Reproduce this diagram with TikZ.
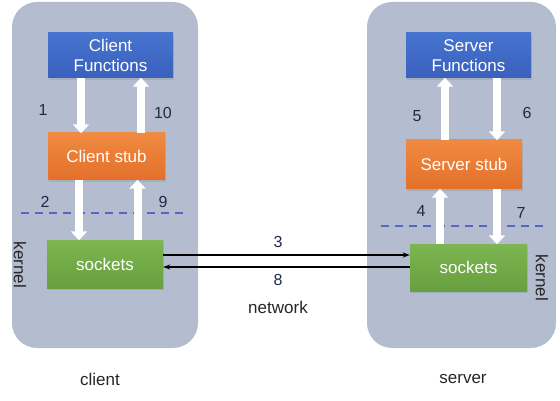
\documentclass[tikz,border=0pt]{standalone}
\usepackage{fontspec}
\setmainfont{Liberation Sans}
\usepackage{tikz}
\usetikzlibrary{positioning,arrows.meta,shadows,calc}
\definecolor{panel}{HTML}{B3BDCF}
\definecolor{fnblue}{HTML}{4674CF}
\definecolor{fnbluedark}{HTML}{3A60BD}
\definecolor{stuborange}{HTML}{F08A42}
\definecolor{stuborangedark}{HTML}{E3702A}
\definecolor{sockgreen}{HTML}{7DB552}
\definecolor{sockgreendark}{HTML}{68A03F}
\definecolor{navy}{HTML}{1F2A4A}
\definecolor{kline}{HTML}{5468C0}

\begin{document}
\begin{tikzpicture}[x=1pt,y=-1pt,
    box/.style={inner sep=0pt, align=center, text=white,
      font=\fontsize{17}{20}\selectfont,
      drop shadow={shadow xshift=1pt, shadow yshift=-2pt, opacity=0.25}},
    fnbox/.style={box, minimum width=125pt, minimum height=45pt,
      top color=fnblue, bottom color=fnbluedark},
    stubbox/.style={box, minimum width=117pt, minimum height=47pt,
      top color=stuborange, bottom color=stuborangedark},
    sockbox/.style={box, minimum width=117pt, minimum height=48pt,
      top color=sockgreen, bottom color=sockgreendark},
    flow/.style={white, line width=8pt,
      -{Triangle[width=16pt,length=9pt]}, shorten >=-0.5pt},
    wire/.style={black, line width=1.3pt, -{Stealth[length=7pt,width=5pt]}},
    num/.style={text=navy, font=\fontsize{16}{19}\selectfont},
    caption/.style={text=black!85, font=\fontsize{17}{20}\selectfont}]

  % canvas
  \useasboundingbox (0,0) rectangle (560,401);

  % client and server panels
  \fill[panel, rounded corners=25pt] (12,2) rectangle (198,348);
  \fill[panel, rounded corners=25pt] (367,2) rectangle (556,348);

  % kernel boundaries
  \draw[kline, line width=1.2pt, dash pattern=on 8pt off 6pt] (21,213) -- (183,213);
  \draw[kline, line width=1.2pt, dash pattern=on 8pt off 6pt] (381,226) -- (543,226);

  % client side
  \node[fnbox] (cfunc) at (110.5,55.5) {Client\\Functions};
  \node[stubbox] (cstub) at (106.5,156.5) {Client stub};
  \node[sockbox, minimum width=116pt] (csock) at (105,264) {sockets};

  % server side
  \node[fnbox] (sfunc) at (468.5,55.5) {Server\\Functions};
  \node[stubbox, minimum width=116pt, minimum height=49pt] (sstub) at (464,164.5) {Server stub};
  \node[sockbox, minimum height=47pt] (ssock) at (468.5,267.5) {sockets};

  % calls inside the client
  \draw[flow] ([xshift=-29.5pt]cfunc.south) -- ([xshift=-29.5pt]cfunc.south |- cstub.north);
  \draw[flow] ([xshift=34.5pt]cstub.north) -- ([xshift=34.5pt]cstub.north |- cfunc.south);
  \draw[flow] ([xshift=-27.5pt]cstub.south) -- ([xshift=-27.5pt]cstub.south |- csock.north);
  \draw[flow] ([xshift=32.5pt]csock.north) -- ([xshift=32.5pt]csock.north |- cstub.south);

  % calls inside the server
  \draw[flow] ([xshift=-19pt]sstub.north) -- ([xshift=-19pt]sstub.north |- sfunc.south);
  \draw[flow] ([xshift=28.5pt]sfunc.south) -- ([xshift=28.5pt]sfunc.south |- sstub.north);
  \draw[flow] ([xshift=-28.5pt]ssock.north) -- ([xshift=-28.5pt]ssock.north |- sstub.south);
  \draw[flow] ([xshift=33pt]sstub.south) -- ([xshift=33pt]sstub.south |- ssock.north);

  % network messages
  \coordinate (req) at ([yshift=9pt]csock.east);
  \coordinate (rep) at ([yshift=-3pt]csock.east);
  \draw[wire] (req) -- (req -| ssock.west);
  \draw[wire] (rep -| ssock.west) -- (rep);

  % step numbers
  \node[num] (n1) at (43,110) {1};
  \node[num] (n10) at (163,113) {10};
  \node[num] (n2) at (45,202) {2};
  \node[num] (n9) at (163,202) {9};
  \node[num] (n3) at (278,242) {3};
  \node[num] (n8) at (278,280) {8};
  \node[num] (n4) at (421,211) {4};
  \node[num] (n7) at (521,213) {7};
  \node[num] (n5) at (417,116) {5};
  \node[num] (n6) at (527,113) {6};

  % captions
  \node[caption] (net) at (278,307) {network};
  \node[caption] (ck) at (20,265) [rotate=-90] {kernel};
  \node[caption] (sk) at (542,278) [rotate=-90] {kernel};
  \node[caption] (cl) at (100,379) {client};
  \node[caption] (sv) at (463,379) {server};
\end{tikzpicture}
\end{document}
